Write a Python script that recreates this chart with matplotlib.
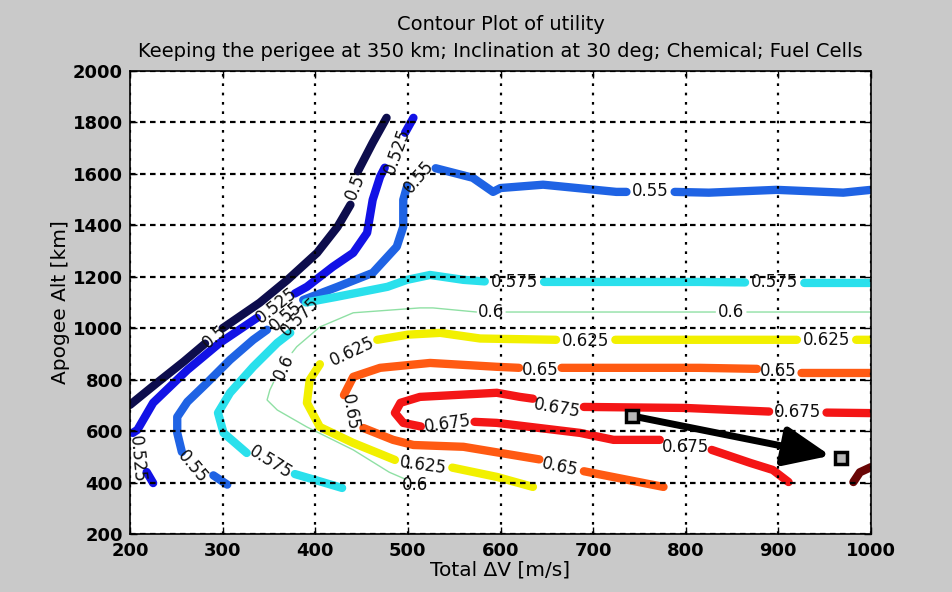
import numpy as np
import matplotlib
matplotlib.use("Agg")
import matplotlib.pyplot as plt

nan = np.nan

# ---- contour lines (Total dV [m/s], Apogee Alt [km]); NaN = gap for label ----
c500_x = [200, 230, 258, 281, nan, 300, 340, 370, 402, 424, 438, nan, 446, 462, 477]
c500_y = [702, 790, 870, 940, nan, 1000, 1099, 1188, 1293, 1394, 1480, nan, 1610, 1721, 1818]

c525_x = [506, 497, nan, 475, 470, 462, 456, 441, 419, 391, 378, nan, 337, 297, 262, 225, 208, 203, nan, 218, 225]
c525_y = [1818, 1760, nan, 1624, 1589, 1499, 1371, 1293, 1239, 1161, 1135, nan, 1040, 943, 838, 710, 605, 593, nan, 441, 398]

c550_x = [305, 290, nan, 256, 251, 251, 262, 283, 308, 333, 348, nan, 387, 424, 462, 488, 495, 495, 499,
          nan, 530, 570, 592, 600, 646, 725, 736, nan, 788, 825, 898, 970, 1000]
c550_y = [392, 428, nan, 519, 593, 655, 714, 787, 877, 955, 994, nan, 1110, 1161, 1215, 1317, 1394, 1499, 1550,
          nan, 1622, 1585, 1530, 1545, 1558, 1530, 1530, nan, 1530, 1527, 1538, 1527, 1538]

c575_x = [429, 400, 378, nan, 326, 301, 295, 308, 333, 359, 373, nan, 390, 423, 478, 499, 524, 560, 583,
          nan, 647, 668, 815, 864, nan, 928, 1000]
c575_y = [379, 410, 433, nan, 515, 593, 671, 749, 850, 943, 982, nan, 1100, 1122, 1161, 1188, 1207, 1188, 1182,
          nan, 1180, 1180, 1180, 1178, nan, 1176, 1176]

c600_x = [498, 480, 441, 391, 359, 348, 351, 355, nan, 375, 380, 405, 441, 513, 527, 574,
          nan, 606, 815, 832, nan, 866, 1000]
c600_y = [412, 440, 527, 616, 682, 721, 760, 790, nan, 905, 928, 1005, 1060, 1079, 1079, 1063,
          nan, 1063, 1063, 1063, nan, 1063, 1063]

c625_x = [635, 596, 548, nan, 486, 441, 405, 391, 394, 405, nan, 467, 500, 535, 578, 660, nan, 724, 815, 920, nan, 984, 1000]
c625_y = [383, 422, 458, nan, 488, 554, 616, 710, 799, 860, nan, 955, 975, 982, 960, 955, nan, 955, 955, 955, nan, 955, 955]

c650_x = [776, 690, nan, 642, 560, 506, 484, 452, nan, 431, 441, 470, 524, 596, 620, nan, 666, 815, 877, nan, 925, 1000]
c650_y = [383, 444, nan, 490, 539, 546, 566, 612, nan, 740, 811, 846, 865, 850, 846, nan, 846, 846, 842, nan, 826, 826]

c675_x = [514, 495, 486, 492, 513, 596, 621, 635, nan, 690, 800, 890, nan, 952, 1000,
          nan, 572, 596, 686, 722, 772, nan, 828, 870, 894, 911]
c675_y = [618, 632, 671, 710, 733, 749, 733, 726, nan, 694, 690, 676, nan, 672, 670,
          nan, 636, 632, 593, 566, 566, nan, 527, 476, 449, 402]

c700_x = [981, 988, 1000]
c700_y = [402, 440, 460]

# ---- contour label texts and their anchors ----
lab_text = ["0.5", "0.5", "0.525", "0.525", "0.525", "0.55", "0.55", "0.55", "0.55",
            "0.575", "0.575", "0.575", "0.575", "0.6", "0.6", "0.6", "0.6",
            "0.625", "0.625", "0.625", "0.625", "0.65", "0.65", "0.65", "0.65",
            "0.675", "0.675", "0.675", "0.675"]
lab_x = [291, 443, 489, 358, 207, 268, 368, 512, 762,
         352, 384, 615, 896, 508, 366, 590, 849,
         516, 440, 692, 952, 664, 438, 643, 900,
         543, 661, 921, 800]
lab_y = [968, 1550, 1690, 1090, 490, 462, 1048, 1590, 1532,
         478, 1045, 1180, 1178, 392, 848, 1062, 1062,
         466, 910, 952, 953, 462, 675, 836, 832,
         630, 690, 673, 540]
lab_rot = [40, 68, 70, 38, -85, -50, 40, 50, 0,
           -32, 45, 0, 0, 0, 65, 0, 0,
           -8, 25, 0, 0, -12, -80, 0, 0,
           8, -10, 0, 0, -18]

# ---- annotation arrow ----
arrow_x = [742, 968]
arrow_y = [659, 496]

x_ticks = [200, 300, 400, 500, 600, 700, 800, 900, 1000]
y_ticks = [200, 400, 600, 800, 1000, 1200, 1400, 1600, 1800, 2000]

levels = [
    (c500_x, c500_y, "#0d0d4d", 6.0),
    (c525_x, c525_y, "#1212e6", 6.0),
    (c550_x, c550_y, "#1f63e4", 6.0),
    (c575_x, c575_y, "#2ae0ec", 6.0),
    (c600_x, c600_y, "#8fe0a4", 1.0),
    (c625_x, c625_y, "#f2f000", 6.0),
    (c650_x, c650_y, "#ff5a12", 6.0),
    (c675_x, c675_y, "#f41616", 6.0),
    (c700_x, c700_y, "#6a0606", 6.0),
]

fig = plt.figure(figsize=(9.52, 5.92), dpi=100, facecolor="#c9c9c9")
ax = fig.add_axes([130 / 952, 58 / 592, 741 / 952, 463 / 592])
ax.set_facecolor("white")

for xs, ys, col, lw in levels:
    ax.plot(xs, ys, color=col, lw=lw, solid_capstyle="round", solid_joinstyle="round", zorder=2)

for t, x, y, r in zip(lab_text, lab_x, lab_y, lab_rot):
    ax.text(x, y, t, fontsize=12, rotation=r, ha="center", va="center",
            rotation_mode="anchor", color="#101010", zorder=4)

ax.annotate("", xy=(arrow_x[1], arrow_y[1]), xytext=(arrow_x[0], arrow_y[0]),
            arrowprops=dict(arrowstyle="-|>,head_length=1.4,head_width=0.6", lw=5,
                            color="black", mutation_scale=20, shrinkA=0, shrinkB=8),
            zorder=5)
ax.plot(arrow_x, arrow_y, "s", ms=9, mfc="#b8b8b8", mec="black", mew=2.5, zorder=6)

ax.set_xlim(200, 1000)
ax.set_ylim(200, 2000)
ax.set_xticks(x_ticks)
ax.set_yticks(y_ticks)
ax.set_xticklabels([str(v) for v in x_ticks], fontsize=13, fontweight="bold")
ax.set_yticklabels([str(v) for v in y_ticks], fontsize=13, fontweight="bold")
ax.tick_params(axis="x", direction="in", top=True, length=5, width=1, pad=6, colors="black")
ax.tick_params(axis="y", direction="in", right=True, length=5, width=1, pad=5, colors="black")

ax.set_axisbelow(False)
ax.xaxis.grid(True, color="black", lw=1.6, linestyle=(0, (1.2, 3.0)))
ax.yaxis.grid(True, color="black", lw=1.6, linestyle=(0, (2.5, 2.0)))
for s in ax.spines.values():
    s.set_linewidth(1.2)
    s.set_color("black")

ax.set_xlabel("Total \u0394V [m/s]", fontsize=14.5, labelpad=0)
ax.set_ylabel("Apogee Alt [km]", fontsize=14.5, labelpad=2)
ax.set_title("Contour Plot of utility\nKeeping the perigee at 350 km; Inclination at 30 deg; Chemical; Fuel Cells",
             fontsize=14, pad=10, linespacing=1.55)

fig.savefig("out.png", dpi=100, facecolor=fig.get_facecolor())
